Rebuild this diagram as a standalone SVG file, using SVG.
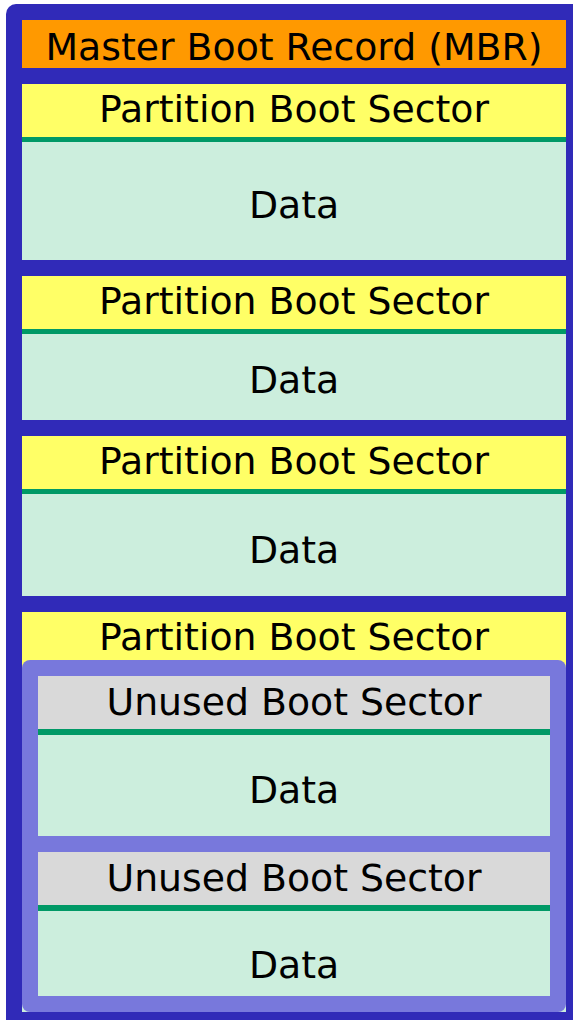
<svg xmlns="http://www.w3.org/2000/svg" width="573" height="1020" viewBox="0 0 573 1020">
<style>
text{font-family:"DejaVu Sans",Verdana,sans-serif;font-size:37.8px;fill:#000;text-anchor:middle}
.mbr{fill:#FF9900}
.pbs{fill:#FFFF66}
.ubs{fill:#D9D9D9}
.data{fill:#CCEEDD}
.sep{fill:#009966}
</style>
<rect x="6" y="4" width="580" height="1030" rx="10" fill="#302AB8"/>
<g id="mbr">
<rect class="mbr" x="22" y="20" width="544" height="48"/>
<text x="294" y="60">Master Boot Record (MBR)</text>
</g>
<g id="partition1">
<rect class="pbs" x="22" y="84" width="544" height="53"/>
<rect class="sep" x="22" y="137" width="544" height="5"/>
<rect class="data" x="22" y="142" width="544" height="118"/>
<text x="294" y="122">Partition Boot Sector</text>
<text x="294" y="218">Data</text>
</g>
<g id="partition2">
<rect class="pbs" x="22" y="276" width="544" height="53"/>
<rect class="sep" x="22" y="329" width="544" height="5"/>
<rect class="data" x="22" y="334" width="544" height="86"/>
<text x="294" y="314">Partition Boot Sector</text>
<text x="294" y="393">Data</text>
</g>
<g id="partition3">
<rect class="pbs" x="22" y="436" width="544" height="53"/>
<rect class="sep" x="22" y="489" width="544" height="5"/>
<rect class="data" x="22" y="494" width="544" height="102"/>
<text x="294" y="474">Partition Boot Sector</text>
<text x="294" y="563">Data</text>
</g>
<g id="partition4">
<rect class="pbs" x="22" y="612" width="544" height="56"/>
<rect class="data" x="22" y="668" width="544" height="344"/>
<text x="294" y="650">Partition Boot Sector</text>
<rect x="22" y="660" width="544" height="352" rx="8" fill="#7878DC"/>
</g>
<g id="logical1">
<rect class="ubs" x="38" y="676" width="512" height="53"/>
<rect class="sep" x="38" y="729" width="512" height="6"/>
<rect class="data" x="38" y="735" width="512" height="101"/>
<text x="294" y="715">Unused Boot Sector</text>
<text x="294" y="803">Data</text>
</g>
<g id="logical2">
<rect class="ubs" x="38" y="852" width="512" height="53"/>
<rect class="sep" x="38" y="905" width="512" height="6"/>
<rect class="data" x="38" y="911" width="512" height="85"/>
<text x="294" y="891">Unused Boot Sector</text>
<text x="294" y="978">Data</text>
</g>
<g id="connectors"/>
</svg>
